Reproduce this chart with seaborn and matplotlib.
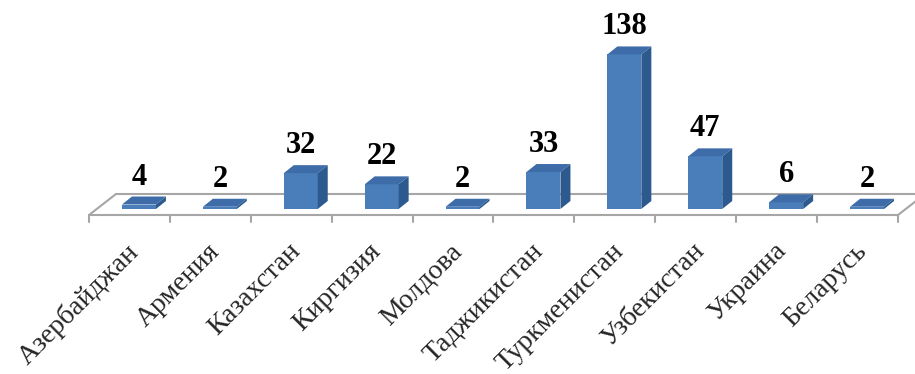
import numpy as np
import pandas as pd
import seaborn as sns
import matplotlib.pyplot as plt
from matplotlib.patches import Polygon

# Data
countries = ["Азербайджан", "Армения", "Казахстан", "Киргизия", "Молдова",
             "Таджикистан", "Туркменистан", "Узбекистан", "Украина", "Беларусь"]
counts = [4, 2, 32, 22, 2, 33, 138, 47, 6, 2]

# Colours
front_color = "#4A7EBB"
top_color = "#3D6CA8"
side_color = "#2D5A8E"
floor_color = "#A6A6A6"
serif = "Liberation Serif"

# Figure geometry (pixels)
W, H = 915, 374
floor_left, floor_right = 89, 898
ax_bottom, ax_top = 215, 15
px_per_unit = 1.12
bar_shift_px = 9.5           # bars sit a bit behind the floor front
floor_depth = (27, 21)       # px
bar_depth = (10, 8)          # px
label_shift_px = -13         # tick label anchor relative to bar centre

sns.set_style("white")
fig = plt.figure(figsize=(W / 100, H / 100), dpi=100)
ax = fig.add_axes([floor_left / W, 1 - ax_bottom / H,
                   (floor_right - floor_left) / W, (ax_bottom - ax_top) / H])

df = pd.DataFrame({"country": countries, "count": counts})
sns.barplot(data=df, x="country", y="count", color=front_color, saturation=1,
            width=0.42, ax=ax, zorder=3, linewidth=0)

n = len(countries)
ux = n / (floor_right - floor_left)   # data units per px in x
uy = 1 / px_per_unit                  # data units per px in y
x0 = -0.5 - bar_shift_px * ux
x1 = x0 + n
y0 = -6 * uy
ax.set_xlim(x0, x1)
ax.set_ylim(y0, y0 + (ax_bottom - ax_top) * uy)

# Floor outline
fdx, fdy = floor_depth[0] * ux, floor_depth[1] * uy
floor_kw = dict(color=floor_color, lw=1.5, clip_on=False, zorder=1)
ax.plot([x0, x1], [y0, y0], **floor_kw)
ax.plot([x0 + fdx, x1 + fdx], [y0 + fdy, y0 + fdy], **floor_kw)
ax.plot([x0, x0 + fdx], [y0, y0 + fdy], **floor_kw)
ax.plot([x1, x1 + fdx], [y0, y0 + fdy], **floor_kw)
for k in range(n + 1):
    ax.plot([x0 + k, x0 + k], [y0, y0 - 7 * uy], **floor_kw)

# 3D top and side faces
bdx, bdy = bar_depth[0] * ux, bar_depth[1] * uy
for p in ax.patches[:n]:
    x, w, h = p.get_x(), p.get_width(), p.get_height()
    top = [(x, h), (x + w, h), (x + w + bdx, h + bdy), (x + bdx, h + bdy)]
    side = [(x + w, 0), (x + w + bdx, bdy), (x + w + bdx, h + bdy), (x + w, h)]
    ax.add_patch(Polygon(top, closed=True, fc=top_color, ec="none", zorder=4, clip_on=False))
    ax.add_patch(Polygon(side, closed=True, fc=side_color, ec="none", zorder=4, clip_on=False))

# Value labels
for i, v in enumerate(counts):
    ax.annotate(str(v), (i, v), xytext=(0, 20 * 0.72), textcoords="offset points",
                ha="center", va="baseline", fontsize=22, fontweight="bold",
                family=serif, color="black")

# Axes cosmetics
ax.set_xticks(np.arange(n) + label_shift_px * ux)
ax.set_xticklabels(countries, rotation=45, ha="right", rotation_mode="anchor",
                   fontsize=20, family=serif)
ax.tick_params(axis="x", length=0, pad=17)
ax.set_yticks([])
ax.set_xlabel("")
ax.set_ylabel("")
sns.despine(ax=ax, left=True, bottom=True)

fig.savefig("out.png", dpi=100)
